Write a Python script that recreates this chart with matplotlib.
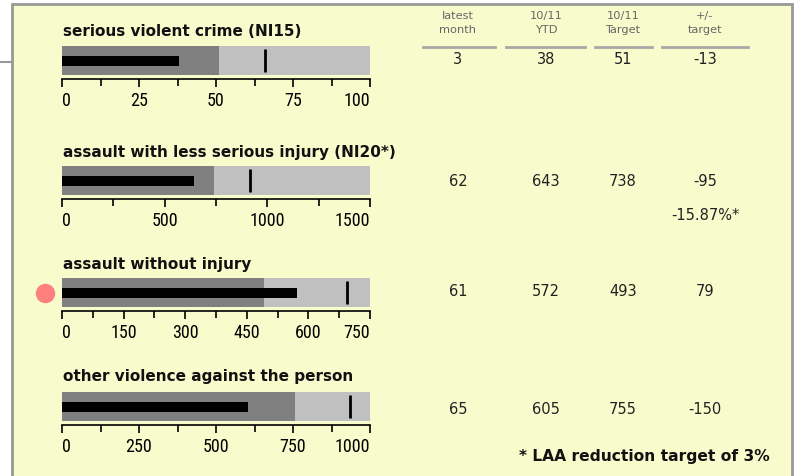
import matplotlib
matplotlib.use("Agg")
import matplotlib.pyplot as plt
from matplotlib.patches import Rectangle
from matplotlib.ticker import MultipleLocator

# indicator data
titles = ["serious violent crime (NI15)",
          "assault with less serious injury (NI20*)",
          "assault without injury",
          "other violence against the person"]
scale_max = [100, 1500, 750, 1000]
major_step = [25, 500, 150, 250]
target = [51, 738, 493, 755]
ytd = [38, 643, 572, 605]
marker = [66, 915, 695, 934]
status = [None, None, "#FF7F7F", None]

# table data
headers = ["latest\nmonth", "10/11\nYTD", "10/11\nTarget", "+/-\ntarget"]
latest_month = ["3", "62", "61", "65"]
ytd_text = ["38", "643", "572", "605"]
target_text = ["51", "738", "493", "755"]
diff_text = ["-13", "-95", "79", "-150"]
pct_note = "-15.87%*"
footnote = "* LAA reduction target of 3%"

W, H = 798, 476
BG = "#F8FCCC"
BORDER = "#999999"

fig = plt.figure(figsize=(W / 100, H / 100), dpi=100)
fig.patch.set_facecolor("white")

# overlay in pixel coordinates
ov = fig.add_axes([0, 0, 1, 1])
ov.set_xlim(0, W)
ov.set_ylim(H, 0)
ov.axis("off")
ov.add_patch(Rectangle((12, 4), 780, 490, facecolor=BG, edgecolor=BORDER, lw=2))
ov.plot([0, 12], [62, 62], color=BORDER, lw=1.5)

narrow = ["Roboto Condensed", "DejaVu Sans"]

def px_axes(x0, y0, x1, y1):
    return fig.add_axes([x0 / W, 1 - y1 / H, (x1 - x0) / W, (y1 - y0) / H])

band_tops = [46, 166, 278, 392]
title_y = [31, 152, 264, 377]

for i in range(4):
    ax = px_axes(62, band_tops[i], 370, band_tops[i] + 29)
    ax.set_facecolor("none")
    ax.barh(0.5, scale_max[i], height=1, color="#C0C0C0", left=0)
    ax.barh(0.5, target[i], height=1, color="#808080", left=0)
    ax.barh(0.5, ytd[i], height=10 / 29, color="black", left=0)
    ax.plot([marker[i], marker[i]], [0.1, 0.88], color="black", lw=2.0,
            solid_capstyle="butt")
    if status[i]:
        ax.plot(-0.055, 0.5, "o", color=status[i], ms=13,
                transform=ax.transAxes, clip_on=False)
    ax.set_xlim(0, scale_max[i])
    ax.set_ylim(0, 1)
    for s in ["top", "left", "right"]:
        ax.spines[s].set_visible(False)
    ax.spines["bottom"].set_position(("outward", 3))
    ax.spines["bottom"].set_linewidth(1.2)
    ax.set_yticks([])
    ax.xaxis.set_major_locator(MultipleLocator(major_step[i]))
    ax.xaxis.set_minor_locator(MultipleLocator(major_step[i] / 2))
    ax.tick_params(axis="x", which="both", direction="out", length=6,
                   width=1.2, color="black", pad=3)
    ax.tick_params(axis="x", which="minor", length=5)
    ticks = [t for t in ax.get_xticks() if 0 <= t <= scale_max[i]]
    ax.set_xticks(ticks)
    ax.set_xticklabels([f"{int(t)}" for t in ticks], fontsize=13,
                       family=narrow, color="black")
    labs = ax.get_xticklabels()
    labs[0].set_ha("left")
    labs[-1].set_ha("right")
    ov.text(63, title_y[i], titles[i], fontsize=11, fontweight="bold",
            color="#111111", va="center", ha="left")

# table
col_x = [458, 546, 623, 705]
col_spans = [(423, 495), (506, 585), (595, 652), (662, 748)]
for j, h in enumerate(headers):
    ov.text(col_x[j], 23, h, fontsize=8.2, color="#666666", ha="center",
            va="center", linespacing=1.4)
    ov.plot(col_spans[j], [46.5, 46.5], color="#A8A8A8", lw=2)

row_y = [60, 181, 292, 410]
columns = [latest_month, ytd_text, target_text, diff_text]
for r in range(4):
    for j in range(4):
        ov.text(col_x[j], row_y[r], columns[j][r], fontsize=10.5, color="#222222",
                ha="center", va="center")
ov.text(col_x[3], 216, pct_note, fontsize=10.5, color="#222222",
        ha="center", va="center")
ov.text(519, 456, footnote, fontsize=11.2, fontweight="bold", color="#111111",
        ha="left", va="center")

fig.savefig("out.png", dpi=100, facecolor=fig.get_facecolor())
